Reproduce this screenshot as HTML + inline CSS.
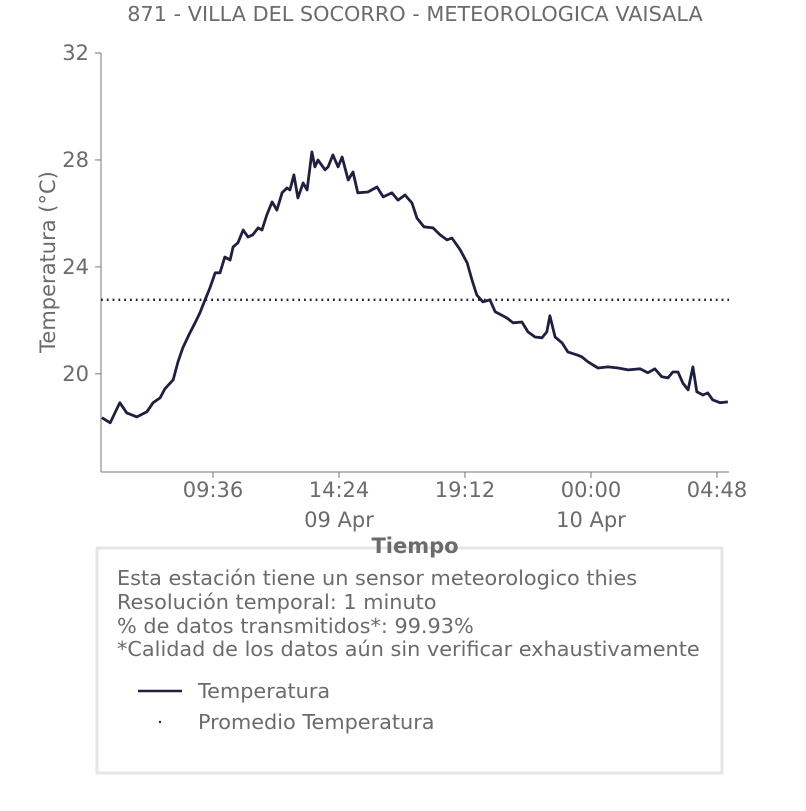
<!DOCTYPE html>
<html><head><meta charset="utf-8"><style>
body{margin:0;background:#fff;font-family:"Liberation Sans","DejaVu Sans",sans-serif;}
svg text{font-family:"DejaVu Sans","Liberation Sans",sans-serif;fill:#6b6b6b;}
</style></head><body>
<svg id="chart" width="806" height="806" xmlns="http://www.w3.org/2000/svg">
<text x="415" y="21" font-size="20.8" text-anchor="middle">871 - VILLA DEL SOCORRO - METEOROLOGICA VAISALA</text>
<g id="axes"></g>
<g id="series"></g>
<rect x="97" y="548" width="625" height="225" fill="#fff" stroke="#e6e6e6" stroke-width="3"/>
<text x="415" y="553" font-size="21" font-weight="bold" text-anchor="middle">Tiempo</text>
<text x="117" y="585" font-size="20.8">Esta estación tiene un sensor meteorologico thies</text>
<text x="117" y="609" font-size="20.8">Resolución temporal: 1 minuto</text>
<text x="117" y="633" font-size="20.8">% de datos transmitidos*: 99.93%</text>
<text x="117" y="656" font-size="20.8">*Calidad de los datos aún sin verificar exhaustivamente</text>
<line x1="138" y1="691" x2="182" y2="691" stroke="#1f1f40" stroke-width="2.5"/>
<text x="198" y="698" font-size="20.8">Temperatura</text>
<circle cx="160" cy="722" r="1.2" fill="#1f1f40"/>
<text x="198" y="729" font-size="20.8">Promedio Temperatura</text>
</svg>
<script>
const times=[2,21,43,59,82,105,119,135,146,165,176,187,203,215,226,238,249,261,272,283,295,302,313,325,336,347,359,368,379,391,402,414,425,432,441,450,462,471,482,489,496,512,519,530,542,551,565,576,587,610,631,645,665,679,695,711,722,738,759,775,791,802,821,837,848,859,873,889,901,928,942,962,976,992,1008,1019,1026,1038,1054,1067,1088,1099,1113,1136,1159,1182,1205,1232,1250,1266,1282,1296,1307,1319,1330,1342,1353,1362,1376,1387,1398,1415,1433];
const temps=[18.36,18.17,18.92,18.54,18.39,18.58,18.92,19.10,19.44,19.78,20.45,20.97,21.53,21.91,22.28,22.77,23.21,23.78,23.78,24.37,24.26,24.75,24.90,25.38,25.12,25.20,25.46,25.38,25.94,26.43,26.13,26.77,26.95,26.88,27.44,26.58,27.14,26.88,28.30,27.74,28.00,27.63,27.74,28.19,27.74,28.11,27.25,27.55,26.77,26.80,26.99,26.62,26.77,26.50,26.69,26.39,25.83,25.50,25.46,25.20,25.01,25.08,24.64,24.15,23.51,22.95,22.69,22.77,22.32,22.09,21.91,21.94,21.57,21.38,21.35,21.57,22.17,21.38,21.16,20.82,20.71,20.64,20.45,20.22,20.26,20.22,20.15,20.19,20.04,20.19,19.89,19.85,20.07,20.07,19.66,19.40,20.26,19.33,19.21,19.29,19.03,18.92,18.95];
const meanTemp=[22.77];
const yTicks=[20,24,28,32];
const xTickMins=[256,544,832,1120,1408];
const xTickLabels=["09:36","14:24","19:12","00:00","04:48"];
const dateTickMins=[544,1120];
const dateTickLabels=["09 Apr","10 Apr"];

const NS="http://www.w3.org/2000/svg";
const L=101,R=729,T=53,B=472,XMAX=1435.5,YMIN=16.33,YMAX=32;
const xs=m=>L+(m/XMAX)*(R-L);
const ys=v=>B-(v-YMIN)/(YMAX-YMIN)*(B-T);
function mk(tag,attrs,parent){const e=document.createElementNS(NS,tag);for(const k in attrs)e.setAttribute(k,attrs[k]);parent.appendChild(e);return e;}
const ax=document.getElementById('axes'),se=document.getElementById('series');
let e=mk('line',{x1:L,y1:T,x2:L,y2:B,stroke:'#777','stroke-width':1},ax);


e=mk('line',{x1:L,y1:B,x2:R,y2:B,stroke:'#777','stroke-width':1},ax);


yTicks.forEach(v=>{
 const y=ys(v);
 let t=mk('line',{x1:L-6,y1:y,x2:L,y2:y,stroke:'#777'},ax);
 
 
 let l=mk('text',{x:L-12,y:y+7,'font-size':21,'text-anchor':'end'},ax);l.textContent=v;
 
 
});
xTickMins.forEach((m,i)=>{
 const x=xs(m);
 let t=mk('line',{x1:x,y1:B,x2:x,y2:B+6,stroke:'#777'},ax);
 
 
 let l=mk('text',{x:x,y:497,'font-size':21,'text-anchor':'middle'},ax);l.textContent=xTickLabels[i];
 
 
});
dateTickMins.forEach((m,i)=>{
 let l=mk('text',{x:xs(m),y:527,'font-size':21,'text-anchor':'middle'},ax);l.textContent=dateTickLabels[i];
 
 
});
let yt=mk('text',{x:0,y:0,'font-size':21,'text-anchor':'middle',transform:'translate(55,262) rotate(-90)'},ax);
yt.textContent='Temperatura (°C)';


const my=ys(meanTemp[0]);
let ml=mk('line',{x1:L,y1:my,x2:R,y2:my,stroke:'#1f1f40','stroke-width':2.4,'stroke-dasharray':'1.8 4'},se);


const pts=times.map((m,i)=>xs(m).toFixed(1)+','+ys(temps[i]).toFixed(1)).join(' ');
let pl=mk('polyline',{points:pts,fill:'none',stroke:'#1f1f40','stroke-width':2.8,'stroke-linejoin':'round'},se);


</script>
</body></html>
